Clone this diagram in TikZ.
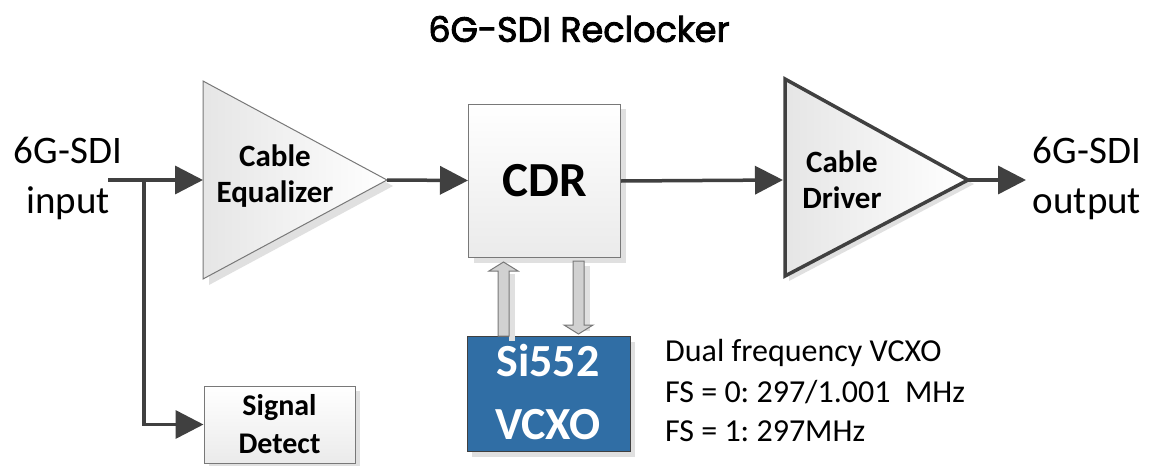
\documentclass[tikz,border=0pt]{standalone}
\usepackage{fontspec}
\setmainfont{Carlito}
\newfontfamily\titlefont[FakeBold=2.5]{Poppins}
\usetikzlibrary{arrows.meta,calc}
\definecolor{lineg}{RGB}{64,64,64}
\definecolor{vblue}{RGB}{48,110,165}
\definecolor{shad}{RGB}{224,224,224}
\definecolor{edge}{RGB}{120,120,120}
\frenchspacing
\begin{document}
\begin{tikzpicture}[x=1pt,y=-1pt,
  conn/.style={draw=lineg,line width=3.5pt,-{Triangle[length=28pt,width=28pt]}},
  box/.style={draw=edge,line width=1pt,top color=white,bottom color=black!8,inner sep=0pt},
  lbl/.style={font=\bfseries\fontsize{31}{36}\selectfont,align=center,inner sep=0pt},
  side/.style={font=\fontsize{39}{50}\selectfont,align=center,inner sep=0pt},
  note/.style={font=\fontsize{32}{40}\selectfont,align=left,anchor=base west,inner sep=0pt},
  hollow/.style={draw=edge,line width=1pt,fill=black!18}
]
\useasboundingbox (0,0) rectangle (1149,466);
\fill[white] (0,0) rectangle (1149,466);

% title
\node[font=\titlefont\fontsize{35}{40}\selectfont,inner sep=0pt] (title) at (579,29) {6G-SDI Reclocker};

% cable equalizer triangle
\fill[shad] (209,87) -- (393,186) -- (209,285) -- cycle;
\path[draw=edge,line width=1pt,left color=black!10,right color=white] (203,81) -- (387,180) -- (203,279) -- cycle;
\coordinate (eqL) at (203,180);
\coordinate (eqR) at (387,180);
\node[lbl] (eq) at (275,176) {Cable\\Equalizer};

% CDR
\fill[shad] (474,109) rectangle (626,263);
\node[box,minimum width=152pt,minimum height=153pt] (cdr) at (544.5,180.5) {};
\node[font=\bfseries\fontsize{49}{56}\selectfont,inner sep=0pt] (cdrt) at (cdr.center) {CDR};

% cable driver
\fill[shad] (789,84) -- (974,184) -- (789,281) -- cycle;
\path[draw=lineg,line width=3.5pt,left color=black!10,right color=white,line join=miter] (785,79) -- (968,180) -- (785,276) -- cycle;
\coordinate (drvL) at (783,180);
\coordinate (drvR) at (968,180);
\node[lbl] (drv) at (842,180) {Cable\\Driver};

% Signal detect
\fill[shad] (209,391) rectangle (360,468);
\node[box,minimum width=151pt,minimum height=77pt] (sd) at (279.5,424.5) {};
\node[lbl,font=\bfseries\fontsize{30}{38}\selectfont] at (sd.center) {Signal\\Detect};

% VCXO
\fill[shad] (472,342) rectangle (635,457);
\node[draw=lineg,line width=1pt,fill=vblue,minimum width=163pt,minimum height=115pt,inner sep=0pt] (vcxo) at (548.5,393.5) {};
\node[font=\bfseries\fontsize{46}{63}\selectfont,text=white,align=center,inner sep=0pt] at (548,392) {Si552\\VCXO};

% notes
\node[note] (n1) at (665,361) {Dual frequency VCXO};
\node[note] (n2) at (665,402) {FS = 0: 297/1.001~~MHz};
\node[note] (n3) at (665,441) {FS = 1: 297MHz};

% side labels
\node[side] (inp) at (68,178) {6G-SDI\\input};
\node[side] (outp) at (1087,178) {6G-SDI\\output};

% connectors
\coordinate (in) at (108,180);
\coordinate (br) at (144,180);
\coordinate (out) at (1026,180);
\draw[conn] (in) -- (eqL);
\draw[conn] (br) |- (sd.west);
\draw[conn] (eqR) -- (cdr.west);
\draw[conn] ($(cdr.east)+(0,0.5)$) -- (drvL);
\draw[conn] (drvR) -- (out);

% hollow block arrows
\fill[shad] (509,274) -- (509,341) -- (515,341) -- (515,274) -- cycle;
\draw[hollow] (498,336) -- (498,271) -- (489,271) -- (503.5,262) -- (518,271) -- (509,271) -- (509,336) -- cycle;
\fill[shad] (584,266) -- (590,266) -- (590,331) -- (584,331) -- cycle;
\draw[hollow] (573,261) -- (584,261) -- (584,325) -- (593,325) -- (578.5,334) -- (564,325) -- (573,325) -- cycle;
\end{tikzpicture}
\end{document}
